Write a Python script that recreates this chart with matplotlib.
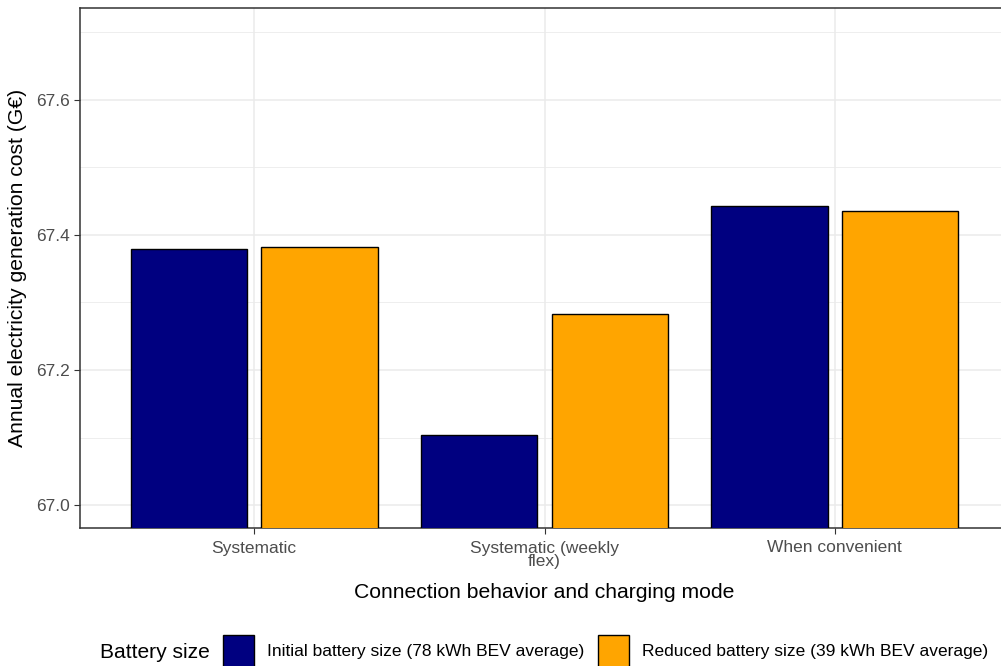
import matplotlib.pyplot as plt
from matplotlib.patches import Patch
import numpy as np

plt.rcParams['font.family'] = ['Liberation Sans', 'DejaVu Sans']

# dados
categories = ["Systematic", "Systematic (weekly\nflex)", "When convenient"]
initial_cost = [67.379, 67.104, 67.443]
reduced_cost = [67.382, 67.283, 67.436]
series_labels = ["Initial battery size (78 kWh BEV average)",
                 "Reduced battery size (39 kWh BEV average)"]
colors = ["#000080", "#FFA500"]

fig = plt.figure(figsize=(10.01, 6.66), dpi=100)
# painel estende um pouco alem da borda direita, como no original
ax = fig.add_axes([80 / 1001, 138 / 666, 929 / 1001, 520 / 666])

x = np.arange(1, len(categories) + 1)
w = 0.4
ax.bar(x - 0.225, initial_cost, width=w, color=colors[0], edgecolor="black",
       linewidth=1, zorder=3)
ax.bar(x + 0.225, reduced_cost, width=w, color=colors[1], edgecolor="black",
       linewidth=1, zorder=3)

ax.set_xlim(0.4, 3.6)
ax.set_ylim(66.966, 67.736)
ax.set_yticks([67.0, 67.2, 67.4, 67.6])
ax.set_yticks([67.1, 67.3, 67.5, 67.7], minor=True)
ax.set_yticklabels(["67.0", "67.2", "67.4", "67.6"])
ax.set_xticks(x)
ax.set_xticklabels(categories, linespacing=0.85)

ax.grid(True, which="major", color="#EBEBEB", linewidth=1.1, zorder=0)
ax.grid(True, which="minor", axis="y", color="#EBEBEB", linewidth=0.6, zorder=0)
ax.tick_params(which="minor", length=0)
ax.tick_params(which="major", length=4, color="#333333", labelcolor="#4D4D4D",
               labelsize=12.5)
ax.tick_params(axis="x", pad=5)
for s in ax.spines.values():
    s.set_color("#333333")
    s.set_linewidth(1.1)

ax.set_xlabel("Connection behavior and charging mode", fontsize=15.2, labelpad=10)
ax.set_ylabel("Annual electricity generation cost (G€)", fontsize=15.2, labelpad=6)

handles = [Patch(facecolor=c, edgecolor="black", linewidth=1) for c in colors]
fig.text(100 / 1001, 14 / 666, "Battery size", fontsize=15.1, va="center")
fig.legend(handles, series_labels, ncol=2, loc="center left",
           bbox_to_anchor=(223 / 1001, 15 / 666), frameon=False, fontsize=12.5,
           handlelength=1.8, handleheight=2.4, handletextpad=0.75,
           columnspacing=0.75, borderaxespad=0, borderpad=0)

fig.savefig("out.png", dpi=100)
